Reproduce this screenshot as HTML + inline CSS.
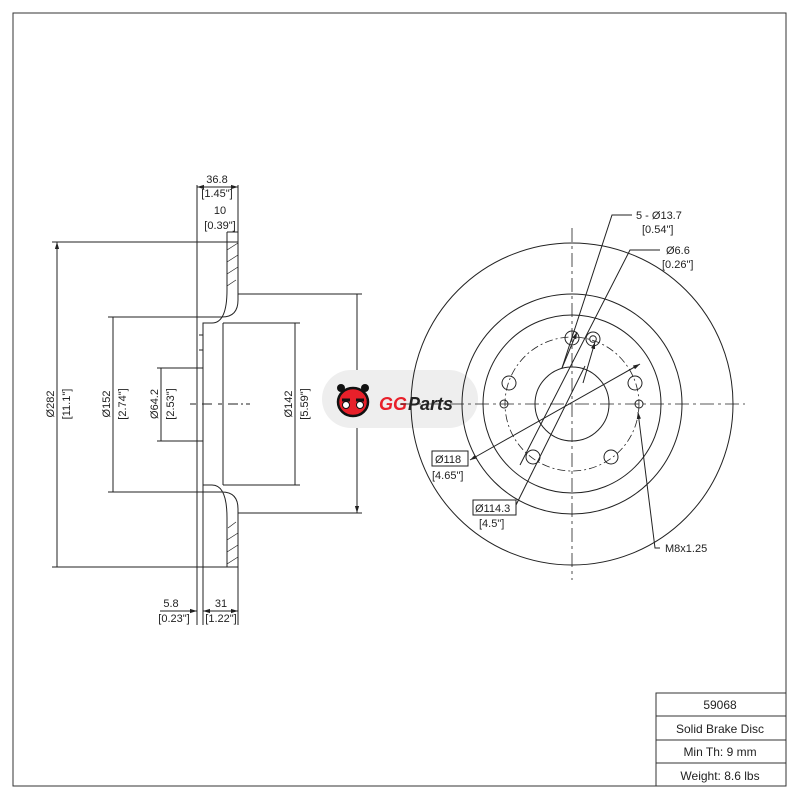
<!DOCTYPE html>
<html><head><meta charset="utf-8"><style>
html,body{margin:0;padding:0;background:#fff;}
svg{display:block;font-family:"Liberation Sans",sans-serif;}
text{font-size:11px;fill:#222;}
</style></head><body>
<svg width="800" height="800" viewBox="0 0 800 800" xmlns="http://www.w3.org/2000/svg">
<defs>
<marker id="a" viewBox="0 0 10 10" refX="10" refY="5" markerWidth="7" markerHeight="7" orient="auto-start-reverse"><path d="M0,2 L10,5 L0,8z" fill="#222"/></marker>
</defs>
<rect x="13" y="13" width="773" height="773" fill="none" stroke="#333" stroke-width="1"/>
<!-- title block -->
<g stroke="#333" fill="none" stroke-width="1">
<path d="M656,786 V693 H786 M656,716 H786 M656,740 H786 M656,763 H786"/>
</g>
<g text-anchor="middle" font-size="12">
<text x="720" y="709" style="font-size:12px">59068</text>
<text x="720" y="733" style="font-size:12px">Solid Brake Disc</text>
<text x="720" y="756" style="font-size:12px">Min Th: 9 mm</text>
<text x="720" y="780" style="font-size:12px">Weight: 8.6 lbs</text>
</g>

<!-- side view -->
<g stroke="#222" fill="none" stroke-width="1">
<path d="M238,242 V300 Q238,317 222,317 H197 V492 H222 Q238,492 238,509 V567 H227 V518 Q227,485 212,485 H203 V323 H212 Q227,323 227,290 V242 Z"/>
<path d="M197,185 V625 M203,323 V625 M238,185 V242 M238,567 V625 M223,323 V485 M197,368 H203 M197,441 H203 M203,368 V441 M199,335 H203 V350 H199"/>
<path d="M227,250 L238,243 M227,262 L238,255 M227,274 L238,267 M227,286 L236,280 M227,540 L238,533 M227,552 L238,545 M227,564 L238,557 M228,528 L236,522" stroke-width="0.7"/>
<!-- extension lines -->
<path d="M52,242 H227 M52,567 H227 M108,317 H197 M108,492 H197 M157,368 H197 M157,441 H197 M238,294 H362 M238,513 H362 M223,323 H300 M223,485 H300"/>
<path d="M57,242 V567 M113,317 V492 M161,368 V441 M295,323 V485 M357,294 V513" marker-start="url(#a)" marker-end="url(#a)"/>
<path d="M197,187 H238" marker-start="url(#a)" marker-end="url(#a)"/>
<path d="M227,232 V242 M227,232 H238" />
<path d="M203,611 H238" marker-start="url(#a)" marker-end="url(#a)"/>
<path d="M160,611 H197" marker-end="url(#a)"/>
<path d="M203,611 H208"/>
<path d="M190,404 H196 M202,404 H212 M218,404 H222 M228,404 H250" stroke-dasharray="10,3,2,3"/>
</g>
<g text-anchor="middle">
<text x="217" y="183">36.8</text>
<text x="217" y="197">[1.45"]</text>
<text x="220" y="214">10</text>
<text x="220" y="229">[0.39"]</text>
<text x="171" y="607">5.8</text>
<text x="174" y="622">[0.23"]</text>
<text x="221" y="607">31</text>
<text x="221" y="622">[1.22"]</text>
<text transform="translate(54,404) rotate(-90)">Ø282</text>
<text transform="translate(70,404) rotate(-90)">[11.1"]</text>
<text transform="translate(110,404) rotate(-90)">Ø152</text>
<text transform="translate(126,404) rotate(-90)">[2.74"]</text>
<text transform="translate(158,404) rotate(-90)">Ø64.2</text>
<text transform="translate(174,404) rotate(-90)">[2.53"]</text>
<text transform="translate(292,404) rotate(-90)">Ø142</text>
<text transform="translate(308,404) rotate(-90)">[5.59"]</text>
</g>

<!-- logo -->
<rect x="322" y="370" width="156" height="58" rx="29" fill="#eee"/>
<g>
<ellipse cx="353" cy="402" rx="15" ry="14" fill="#e8202a" stroke="#111" stroke-width="2.5"/>
<circle cx="341" cy="388" r="4" fill="#111"/><circle cx="365" cy="388" r="4" fill="#111"/>
<path d="M342,400 h8 M356,400 h8" stroke="#111" stroke-width="3"/>
<circle cx="346" cy="405" r="3.5" fill="#fff" stroke="#111"/><circle cx="360" cy="405" r="3.5" fill="#fff" stroke="#111"/>
<text x="379" y="410" style="font-size:18px;font-weight:bold;font-style:italic;fill:#e8202a">GG</text>
<text x="408" y="410" style="font-size:18px;font-weight:bold;font-style:italic;fill:#222">Parts</text>
</g>

<!-- front view -->
<g stroke="#222" fill="none" stroke-width="1">
<circle cx="572" cy="404" r="161"/>
<circle cx="572" cy="404" r="110"/>
<circle cx="572" cy="404" r="89"/>
<circle cx="572" cy="404" r="37"/>
<circle cx="572" cy="404" r="67" stroke-dasharray="8,3,2,3" stroke-width="0.8"/>
<circle cx="572" cy="338" r="7"/>
<circle cx="509" cy="383" r="7"/>
<circle cx="635" cy="383" r="7"/>
<circle cx="533" cy="457" r="7"/>
<circle cx="611" cy="457" r="7"/>
<circle cx="593" cy="339" r="7"/><circle cx="593" cy="339" r="3.3"/>
<circle cx="504" cy="404" r="4"/>
<circle cx="639" cy="404" r="4"/>
<path d="M400,404 H745 M572,228 V580" stroke-dasharray="14,4,3,4" stroke-width="0.8"/>
<!-- leaders -->
<path d="M632,215 H612 L562,368"/>
<path d="M562,368 L577,332" marker-end="url(#a)"/>
<path d="M660,250 H630 L520,465"/>
<path d="M583,383 L595,342" marker-end="url(#a)"/>
<path d="M470,460 L640,364" marker-start="url(#a)" marker-end="url(#a)"/>
<path d="M468,460 H466"/>
<path d="M516,505 L585,366"/>
<path d="M660,548 H655 L638,412" marker-end="url(#a)"/>
</g>
<rect x="432" y="451" width="36" height="15" fill="#fff" stroke="#222"/>
<rect x="473" y="500" width="43" height="15" fill="#fff" stroke="#222"/>
<g>
<text x="636" y="219">5 - Ø13.7</text>
<text x="642" y="233">[0.54"]</text>
<text x="666" y="254">Ø6.6</text>
<text x="662" y="268">[0.26"]</text>
<text x="435" y="463">Ø118</text>
<text x="432" y="479">[4.65"]</text>
<text x="475" y="512">Ø114.3</text>
<text x="479" y="527">[4.5"]</text>
<text x="665" y="552">M8x1.25</text>
</g>
</svg>
</body></html>
